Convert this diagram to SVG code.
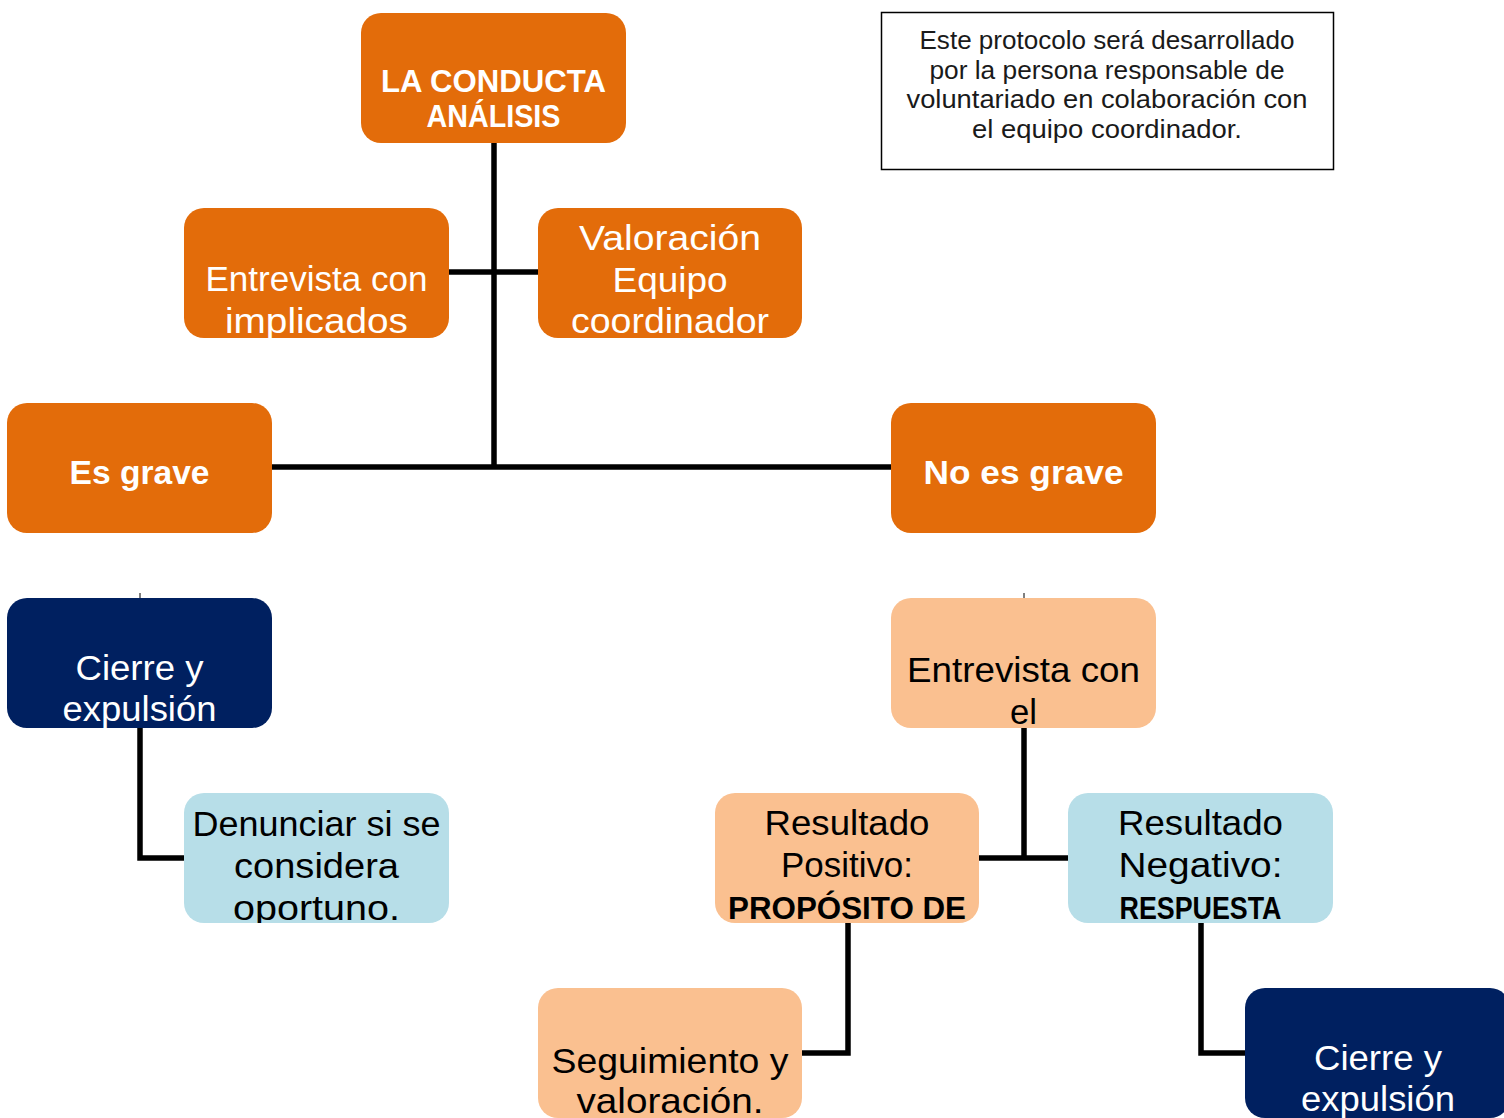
<svg xmlns="http://www.w3.org/2000/svg" width="1504" height="1118" viewBox="0 0 1504 1118">
<style>
.box{rx:20px;ry:20px}
.org{fill:#E36C0A}
.navy{fill:#002060}
.peach{fill:#FAC090}
.blue{fill:#B7DEE8}
.t{font-family:"Liberation Sans",Arial,sans-serif;font-size:35px;text-anchor:middle}
.w{fill:#FFFFFF}
.k{fill:#000000}
.b{font-weight:bold}
.conn{stroke:#000;stroke-width:5.5;fill:none;stroke-linecap:butt;stroke-linejoin:miter}
.tick{stroke:#000;stroke-width:1;fill:none}
.note{font-family:"Liberation Sans",Arial,sans-serif;font-size:25px;text-anchor:middle;fill:#1a1a1a}
</style>
<rect width="1504" height="1118" fill="#FFFFFF"/>
<g id="connectors">
<path class="conn" d="M494 143V467"/>
<path class="conn" d="M449 272H538"/>
<path class="conn" d="M272 467H891"/>
<path class="conn" d="M140 728V858H184"/>
<path class="conn" d="M1024 728V858"/>
<path class="conn" d="M979 858H1068"/>
<path class="conn" d="M848 923V1053H802"/>
<path class="conn" d="M1201 923V1053H1245"/>
<path class="tick" d="M140 593V598"/>
<path class="tick" d="M1024 593V598"/>
</g>
<g id="node-conducta">
<svg x="361" y="13" width="265" height="130">
<rect class="box org" width="265" height="130"/>
<text class="t w b" style="font-size:31px" x="132.5" y="79" textLength="225" lengthAdjust="spacingAndGlyphs">LA CONDUCTA</text>
<text class="t w b" style="font-size:31px" x="132.5" y="114" textLength="134" lengthAdjust="spacingAndGlyphs">ANÁLISIS</text>
</svg>
</g>
<g id="node-entrevista-implicados">
<svg x="184" y="208" width="265" height="130">
<rect class="box org" width="265" height="130"/>
<text class="t w" x="132.5" y="83" textLength="222" lengthAdjust="spacingAndGlyphs">Entrevista con</text>
<text class="t w" x="132.5" y="125" textLength="183" lengthAdjust="spacingAndGlyphs">implicados</text>
</svg>
</g>
<g id="node-valoracion">
<svg x="538" y="208" width="264" height="130">
<rect class="box org" width="264" height="130"/>
<text class="t w" x="132" y="42" textLength="182" lengthAdjust="spacingAndGlyphs">Valoración</text>
<text class="t w" x="132" y="84" textLength="115" lengthAdjust="spacingAndGlyphs">Equipo</text>
<text class="t w" x="132" y="125" textLength="198" lengthAdjust="spacingAndGlyphs">coordinador</text>
</svg>
</g>
<g id="node-es-grave">
<svg x="7" y="403" width="265" height="130">
<rect class="box org" width="265" height="130"/>
<text class="t w b" style="font-size:34px" x="132.5" y="81" textLength="140" lengthAdjust="spacingAndGlyphs">Es grave</text>
</svg>
</g>
<g id="node-no-es-grave">
<svg x="891" y="403" width="265" height="130">
<rect class="box org" width="265" height="130"/>
<text class="t w b" style="font-size:34px" x="132.5" y="81" textLength="200" lengthAdjust="spacingAndGlyphs">No es grave</text>
</svg>
</g>
<g id="node-cierre-left">
<svg x="7" y="598" width="265" height="130">
<rect class="box navy" width="265" height="130"/>
<text class="t w" x="132.5" y="82" textLength="128" lengthAdjust="spacingAndGlyphs">Cierre y</text>
<text class="t w" x="132.5" y="123" textLength="154" lengthAdjust="spacingAndGlyphs">expulsión</text>
</svg>
</g>
<g id="node-denunciar">
<svg x="184" y="793" width="265" height="130">
<rect class="box blue" width="265" height="130"/>
<text class="t k" x="132.5" y="43" textLength="248" lengthAdjust="spacingAndGlyphs">Denunciar si se</text>
<text class="t k" x="132.5" y="85" textLength="165" lengthAdjust="spacingAndGlyphs">considera</text>
<text class="t k" x="132.5" y="127" textLength="167" lengthAdjust="spacingAndGlyphs">oportuno.</text>
</svg>
</g>
<g id="node-entrevista-el">
<svg x="891" y="598" width="265" height="130">
<rect class="box peach" width="265" height="130"/>
<text class="t k" x="132.5" y="84" textLength="233" lengthAdjust="spacingAndGlyphs">Entrevista con</text>
<text class="t k" x="132.5" y="126" textLength="27" lengthAdjust="spacingAndGlyphs">el</text>
</svg>
</g>
<g id="node-positivo">
<svg x="715" y="793" width="264" height="130">
<rect class="box peach" width="264" height="130"/>
<text class="t k" x="132" y="42" textLength="165" lengthAdjust="spacingAndGlyphs">Resultado</text>
<text class="t k" x="132" y="84" textLength="132" lengthAdjust="spacingAndGlyphs">Positivo:</text>
<text class="t k b" style="font-size:31px" x="132" y="126" textLength="238" lengthAdjust="spacingAndGlyphs">PROPÓSITO DE</text>
</svg>
</g>
<g id="node-negativo">
<svg x="1068" y="793" width="265" height="130">
<rect class="box blue" width="265" height="130"/>
<text class="t k" x="132.5" y="42" textLength="165" lengthAdjust="spacingAndGlyphs">Resultado</text>
<text class="t k" x="132.5" y="84" textLength="164" lengthAdjust="spacingAndGlyphs">Negativo:</text>
<text class="t k b" style="font-size:32px" x="132.5" y="126" textLength="162" lengthAdjust="spacingAndGlyphs">RESPUESTA</text>
</svg>
</g>
<g id="node-seguimiento">
<svg x="538" y="988" width="264" height="130">
<rect class="box peach" width="264" height="130"/>
<text class="t k" x="132" y="85" textLength="237" lengthAdjust="spacingAndGlyphs">Seguimiento y</text>
<text class="t k" x="132" y="125" textLength="187" lengthAdjust="spacingAndGlyphs">valoración.</text>
</svg>
</g>
<g id="node-cierre-right">
<svg x="1245" y="988" width="265" height="130">
<rect class="box navy" width="265" height="130"/>
<text class="t w" x="133" y="82" textLength="128" lengthAdjust="spacingAndGlyphs">Cierre y</text>
<text class="t w" x="133" y="123" textLength="154" lengthAdjust="spacingAndGlyphs">expulsión</text>
</svg>
</g>
<g id="note">
<rect x="881.5" y="12.5" width="452" height="157" fill="none" stroke="#000" stroke-width="1.5"/>
<text class="note" x="1107" y="49" textLength="375" lengthAdjust="spacingAndGlyphs">Este protocolo será desarrollado</text>
<text class="note" x="1107" y="79" textLength="355" lengthAdjust="spacingAndGlyphs">por la persona responsable de</text>
<text class="note" x="1107" y="108" textLength="401" lengthAdjust="spacingAndGlyphs">voluntariado en colaboración con</text>
<text class="note" x="1107" y="138" textLength="270" lengthAdjust="spacingAndGlyphs">el equipo coordinador.</text>
</g>
</svg>
